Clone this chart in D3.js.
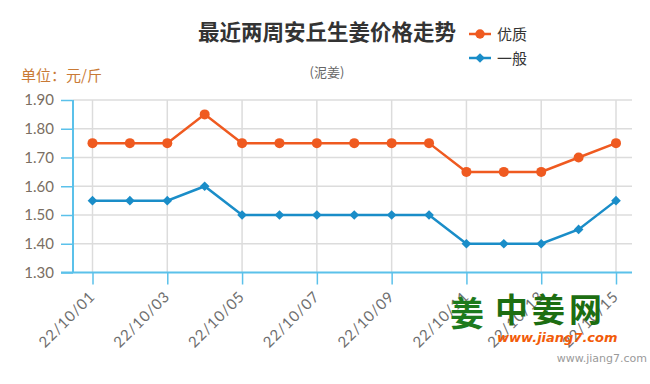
<!DOCTYPE html>
<meta charset="utf-8">
<style>
body { margin:0; background:#fff; font-family:"Noto Sans CJK SC", "Noto Sans", sans-serif; }
</style>
<body>
<script src="https://d3js.org/d3.v7.min.js"></script>
<script>

// data
var dates = ["22/10/01","22/10/02","22/10/03","22/10/04","22/10/05","22/10/06","22/10/07","22/10/08",
             "22/10/09","22/10/10","22/10/11","22/10/12","22/10/13","22/10/14","22/10/15"];
var youzhi = [1.75,1.75,1.75,1.85,1.75,1.75,1.75,1.75,1.75,1.75,1.65,1.65,1.65,1.70,1.75];
var yiban  = [1.55,1.55,1.55,1.60,1.50,1.50,1.50,1.50,1.50,1.50,1.40,1.40,1.40,1.45,1.55];
var yTicks = [1.30,1.40,1.50,1.60,1.70,1.80,1.90];
var seriesNames = ["优质","一般"];

var svg = d3.select("body").append("svg")
    .attr("width",650)
    .attr("height",384);

var x = d3.scalePoint().domain(dates).range([92.5,616]);
var y = d3.scaleLinear().domain([1.3,1.9]).range([272.5,100]);

var axisColor = "#5bc1ea";

// grid
svg.append("g").selectAll("line")
   .data(yTicks.slice(1))
   .enter().append("line")
   .attr("x1",73).attr("x2",632)
   .attr("y1",function(d){return y(d)}).attr("y2",function(d){return y(d)})
   .attr("stroke","#dcdcdc").attr("stroke-width",1.5);

var labelDates = dates.filter(function(d,i){return i%2==0});
svg.append("g").selectAll("line")
   .data(labelDates)
   .enter().append("line")
   .attr("x1",function(d){return x(d)}).attr("x2",function(d){return x(d)})
   .attr("y1",100).attr("y2",272.5)
   .attr("stroke","#dcdcdc").attr("stroke-width",1.5);

// y axis
var yAxis = svg.append("g")
    .attr("transform","translate(73,0)")
    .call(d3.axisLeft(y).tickValues(yTicks).tickFormat(d3.format(".2f")).tickSize(12).tickPadding(7));
yAxis.select(".domain").attr("stroke",axisColor).attr("stroke-width",2).attr("d","M0,100V272.5");
yAxis.selectAll(".tick line").attr("stroke",axisColor).attr("stroke-width",1.5);
yAxis.selectAll("text").attr("fill","#7a6e62").attr("font-size",15)
   .attr("font-family","Lato, 'Open Sans', sans-serif");

// x axis
var xAxis = svg.append("g")
    .attr("transform","translate(0,272.5)")
    .call(d3.axisBottom(x).tickValues(labelDates).tickSize(12).tickPadding(4));
xAxis.select(".domain").attr("stroke",axisColor).attr("stroke-width",2).attr("d","M61,0H632");
xAxis.selectAll(".tick line").attr("stroke",axisColor).attr("stroke-width",1.5);
xAxis.selectAll("text")
   .attr("fill","#6e6e6e").attr("font-size",15)
   .attr("font-family","Lato, 'Open Sans', sans-serif")
   .attr("letter-spacing",0.8)
   .attr("text-anchor","end")
   .attr("y",0).attr("dy",0)
   .attr("transform","translate(3,25) rotate(-45)");

// lines
var line = d3.line()
    .x(function(d,i){return x(dates[i])})
    .y(function(d){return y(d)});

svg.append("path").datum(youzhi)
   .attr("d",line).attr("fill","none")
   .attr("stroke","#ef5a20").attr("stroke-width",2.5);
svg.append("g").selectAll("circle")
   .data(youzhi).enter().append("circle")
   .attr("cx",function(d,i){return x(dates[i])})
   .attr("cy",function(d){return y(d)})
   .attr("r",5).attr("fill","#ef5a20");

svg.append("path").datum(yiban)
   .attr("d",line).attr("fill","none")
   .attr("stroke","#1a8dc8").attr("stroke-width",2.5);
var diamond = d3.symbol().type(d3.symbolDiamond2).size(60);
svg.append("g").selectAll("path")
   .data(yiban).enter().append("path")
   .attr("d",diamond)
   .attr("transform",function(d,i){return "translate("+x(dates[i])+","+y(d)+")"})
   .attr("fill","#1a8dc8");

// title
svg.append("text").attr("x",327).attr("y",40)
   .attr("text-anchor","middle").attr("font-size",21.5).attr("font-weight","bold")
   .attr("fill","#333").text("最近两周安丘生姜价格走势");
svg.append("text").attr("x",327).attr("y",77)
   .attr("text-anchor","middle").attr("font-size",13)
   .attr("fill","#666").text("(泥姜)");
svg.append("text").attr("x",21).attr("y",81)
   .attr("font-size",15).attr("fill","#c97a36").text("单位：元/斤");

// legend
var legColors = ["#ef5a20","#1a8dc8"];
var leg = svg.append("g").selectAll("g")
   .data(seriesNames).enter().append("g")
   .attr("transform",function(d,i){return "translate(469,"+(34+i*24)+")"});
leg.append("line").attr("x1",0).attr("x2",22).attr("y1",0).attr("y2",0)
   .attr("stroke",function(d,i){return legColors[i]}).attr("stroke-width",2.5);
leg.append("path")
   .attr("d",function(d,i){return i==0 ? d3.symbol().type(d3.symbolCircle).size(70)() : diamond()})
   .attr("transform","translate(11,0)")
   .attr("fill",function(d,i){return legColors[i]});
leg.append("text").attr("x",28).attr("y",6)
   .attr("font-size",15).attr("fill","#333").text(function(d){return d});

// watermark
var wm = svg.append("g");
wm.append("text").attr("x",450).attr("y",326)
   .attr("font-size",34).attr("font-weight","bold").attr("fill","#1d7a1d").text("姜");
wm.append("text").attr("x",495).attr("y",322)
   .attr("font-size",33).attr("font-weight","bold").attr("fill","#1d6e12")
   .attr("letter-spacing",4).text("中姜网");
wm.append("text").attr("x",497).attr("y",342)
   .attr("font-size",13).attr("font-weight","bold").attr("font-style","italic")
   .attr("font-family","'DejaVu Sans', sans-serif")
   .attr("fill","#f25c0a").text("www.jiang7.com");
wm.append("text").attr("x",647).attr("y",362).attr("text-anchor","end")
   .attr("font-size",11).attr("font-family","'DejaVu Sans', sans-serif")
   .attr("fill","#9a9a9a").text("www.jiang7.com");
</script>
</body>
